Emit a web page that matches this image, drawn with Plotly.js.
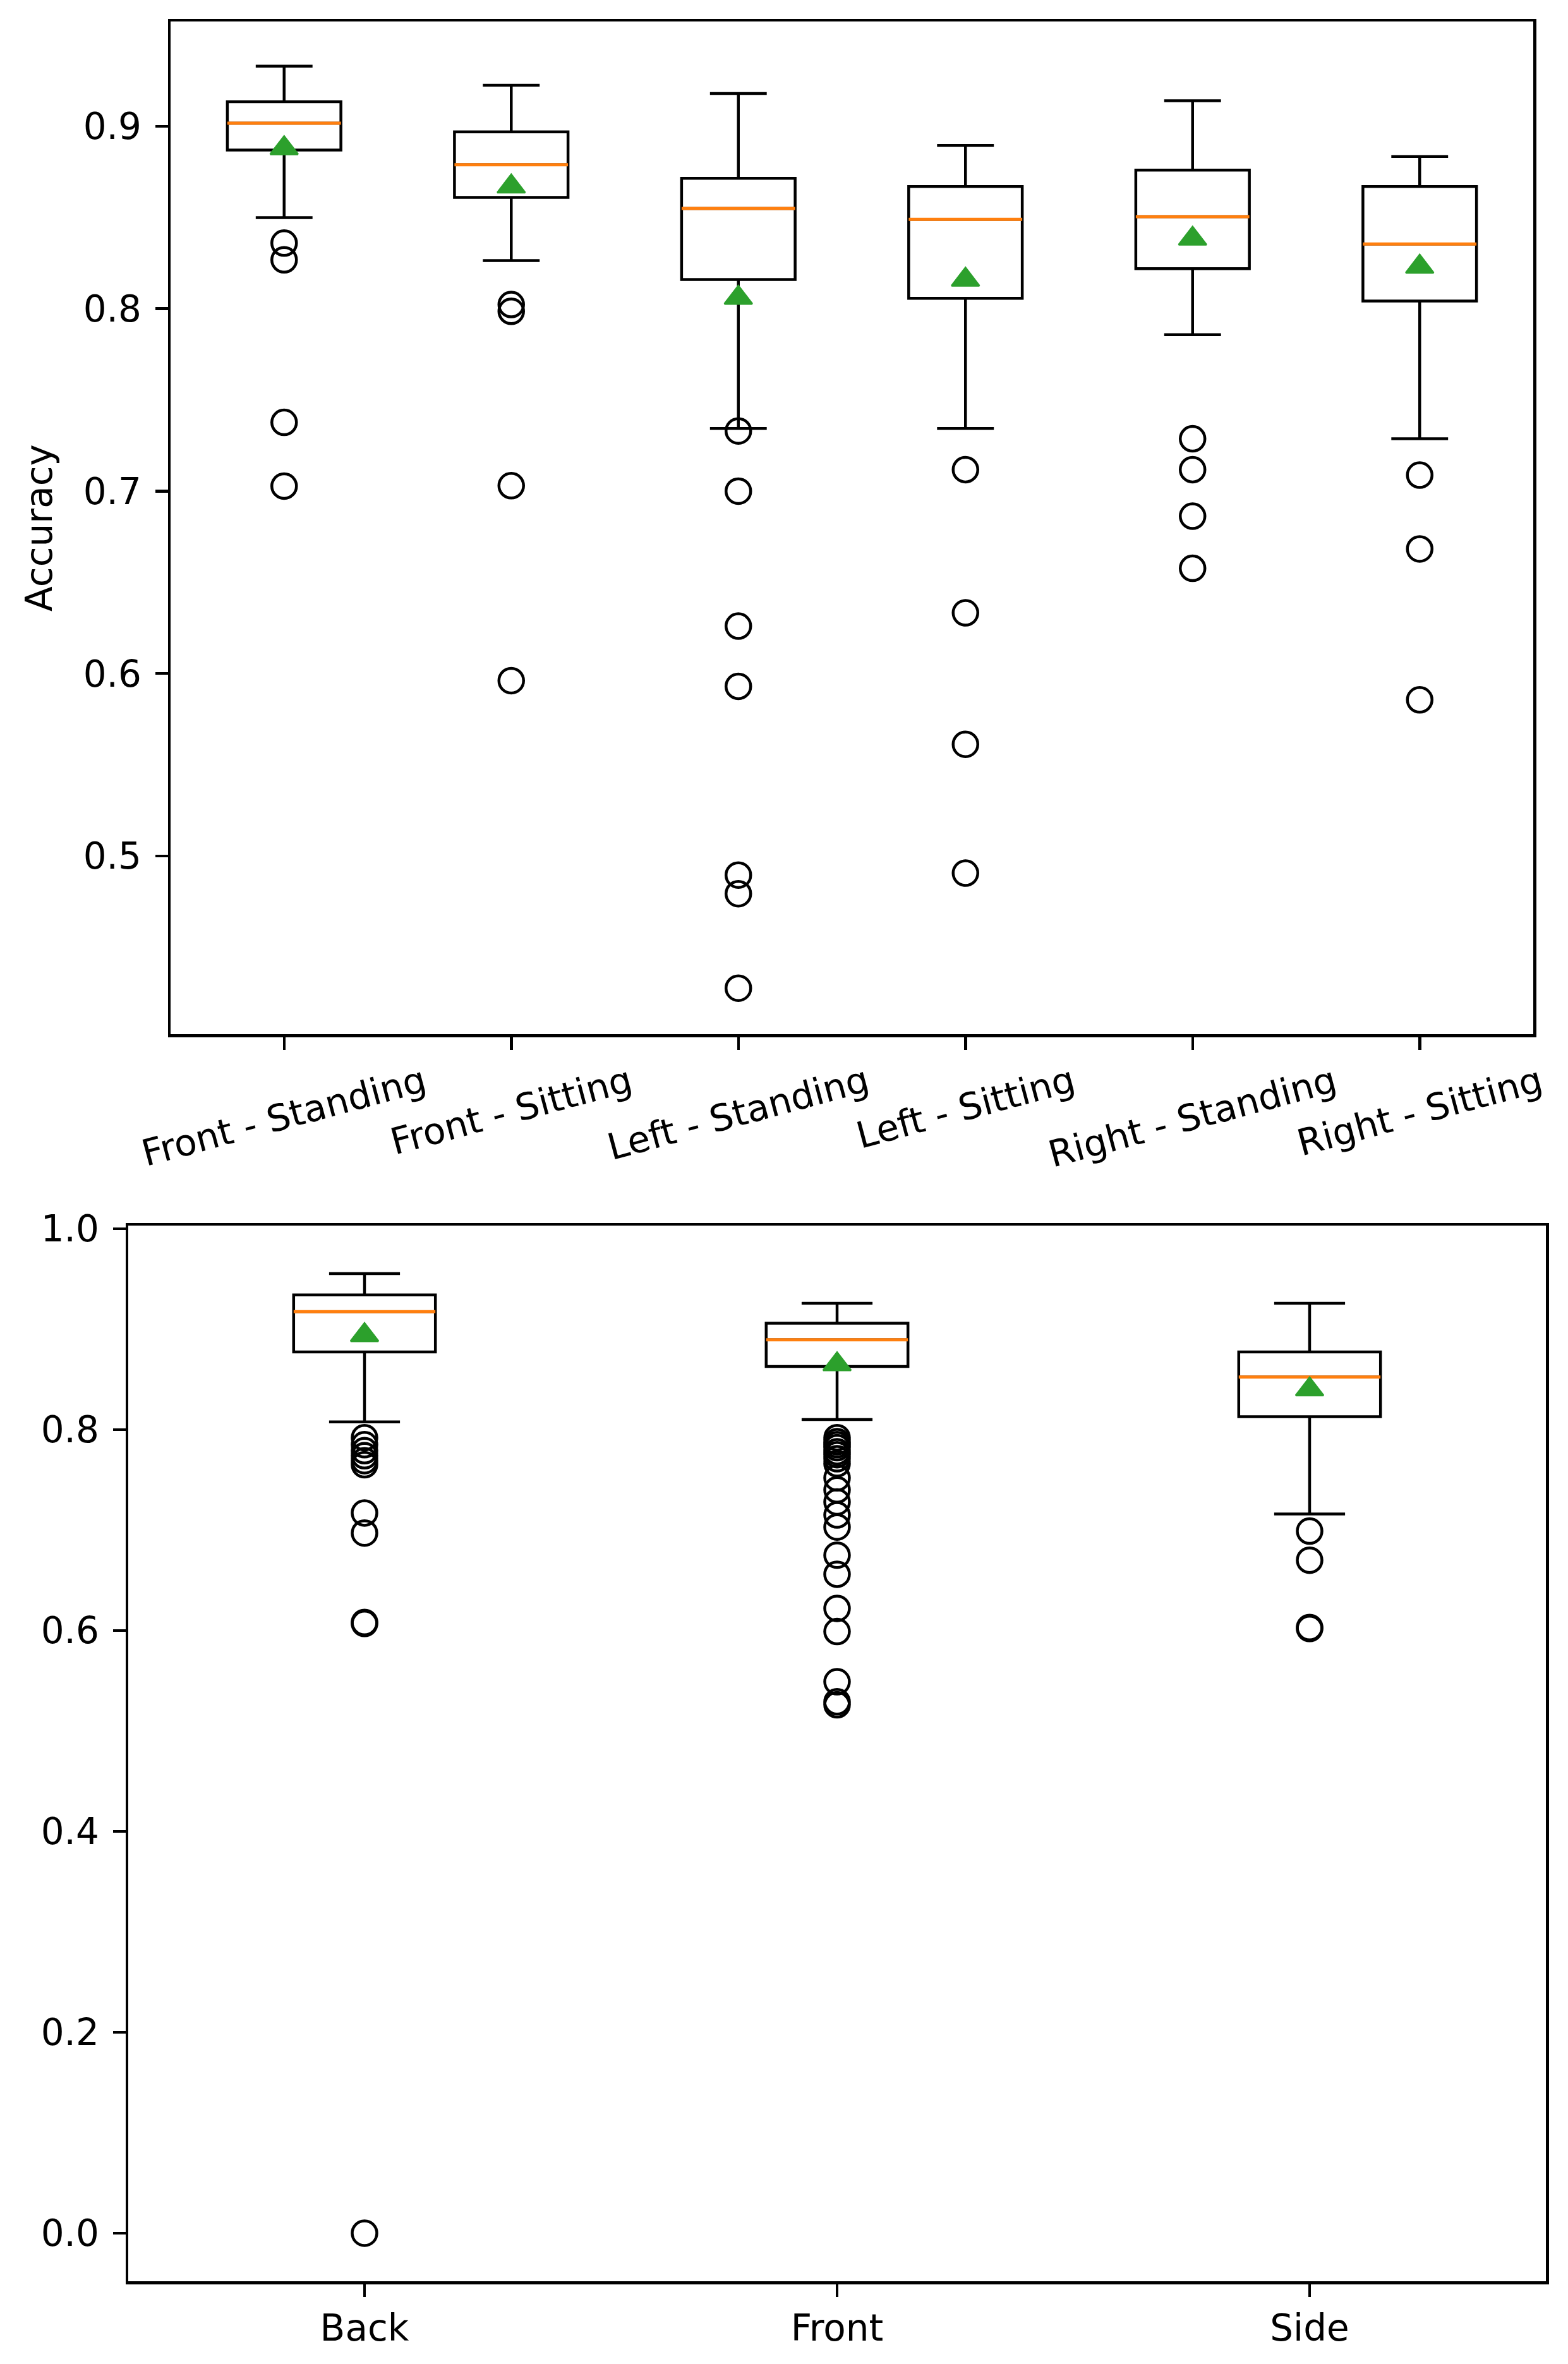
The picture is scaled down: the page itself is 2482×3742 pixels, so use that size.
<!DOCTYPE html>
<html>
<head>
<meta charset="utf-8">
<script src="https://cdn.plot.ly/plotly-3.0.1.min.js"></script>
<style>
  html, body { margin: 0; padding: 0; background: #ffffff; overflow: hidden; }
  #chart { width: 2482px; height: 3742px; }
</style>
</head>
<body>
<div id="chart"></div>
<script>
// ---------- Top panel: camera view - posture ----------
const categoriesTop = ['Front - Standing', 'Front - Sitting', 'Left - Standing', 'Left - Sitting', 'Right - Standing', 'Right - Sitting'];
const upperTop  = [0.933, 0.9225, 0.918, 0.8895, 0.914, 0.8835];
const q3Top     = [0.9135, 0.897, 0.8715, 0.867, 0.876, 0.867];
const medianTop = [0.9017, 0.879, 0.855, 0.849, 0.8505, 0.8355];
const q1Top     = [0.887, 0.861, 0.816, 0.8057, 0.822, 0.8042];
const lowerTop  = [0.850, 0.8264, 0.7344, 0.7344, 0.7858, 0.7287];
const meanTop   = [0.888, 0.867, 0.806, 0.8159, 0.8384, 0.823];
const outFrontStanding = [0.836, 0.8268, 0.7377, 0.7028];
const outFrontSitting  = [0.8023, 0.7986, 0.703, 0.5961];
const outLeftStanding  = [0.733, 0.700, 0.626, 0.593, 0.4895, 0.4793, 0.4275];
const outLeftSitting   = [0.7118, 0.6333, 0.5612, 0.4906];
const outRightStanding = [0.7287, 0.7118, 0.6863, 0.6577];
const outRightSitting  = [0.7088, 0.6683, 0.5856];
const outliersTop = [outFrontStanding, outFrontSitting, outLeftStanding, outLeftSitting, outRightStanding, outRightSitting];
const yTicksTop = [0.5, 0.6, 0.7, 0.8, 0.9];

// ---------- Bottom panel: camera view ----------
const categoriesBottom = ['Back', 'Front', 'Side'];
const upperBottom  = [0.9553, 0.9258, 0.9258];
const q3Bottom     = [0.934, 0.906, 0.8773];
const medianBottom = [0.9174, 0.8894, 0.8523];
const q1Bottom     = [0.8773, 0.8629, 0.8129];
const lowerBottom  = [0.8076, 0.810, 0.716];
const meanBottom   = [0.894, 0.865, 0.840];
const outBack  = [0.792, 0.785, 0.779, 0.774, 0.769, 0.765, 0.717, 0.697, 0.608, 0.607, 0.0];
const outFront = [0.792, 0.788, 0.785, 0.782, 0.778, 0.775, 0.771, 0.766, 0.752, 0.740, 0.728, 0.715, 0.703, 0.675, 0.656, 0.622, 0.599, 0.549, 0.529, 0.526];
const outSide  = [0.699, 0.670, 0.603, 0.602];
const outliersBottom = [outBack, outFront, outSide];
const yTicksBottom = [0.0, 0.2, 0.4, 0.6, 0.8, 1.0];

// ---------- styling ----------
const FONT = 'DejaVu Sans, Verdana, sans-serif';
const FS = 58;
const LW = 4.5;
const ORANGE = '#ff7f0e';
const GREEN = '#2ca02c';

function buildPanel(cats, lower, q1, med, q3, upper, mean, outliers, boxWidth, xa, ya) {
  const pos = cats.map((c, i) => i + 1);
  const traces = [];
  traces.push({
    type: 'box', orientation: 'v', x: pos,
    q1: q1, median: med, q3: q3, lowerfence: lower, upperfence: upper,
    width: boxWidth, whiskerwidth: 0.5, boxpoints: false,
    line: { color: '#000000', width: LW }, fillcolor: 'rgba(0,0,0,0)',
    xaxis: xa, yaxis: ya, hoverinfo: 'skip', showlegend: false
  });
  // orange median lines
  const mx = [], my = [];
  pos.forEach((p, i) => { mx.push(p - boxWidth / 2, p + boxWidth / 2, null); my.push(med[i], med[i], null); });
  traces.push({ type: 'scatter', mode: 'lines', x: mx, y: my, line: { color: ORANGE, width: LW + 0.5 },
    xaxis: xa, yaxis: ya, hoverinfo: 'skip', showlegend: false });
  // outliers
  const ox = [], oy = [];
  outliers.forEach((arr, i) => arr.forEach(v => { ox.push(pos[i]); oy.push(v); }));
  traces.push({ type: 'scatter', mode: 'markers', x: ox, y: oy,
    marker: { symbol: 'circle-open', size: 39, color: '#000000', line: { color: '#000000', width: LW } },
    xaxis: xa, yaxis: ya, hoverinfo: 'skip', showlegend: false });
  // means
  traces.push({ type: 'scatter', mode: 'markers', x: pos, y: mean,
    marker: { symbol: 'triangle-up', size: 38, color: GREEN, line: { color: GREEN, width: 3 } },
    xaxis: xa, yaxis: ya, hoverinfo: 'skip', showlegend: false });
  return traces;
}

const data = [].concat(
  buildPanel(categoriesTop, lowerTop, q1Top, medianTop, q3Top, upperTop, meanTop, outliersTop, 0.5, 'x', 'y'),
  buildPanel(categoriesBottom, lowerBottom, q1Bottom, medianBottom, q3Bottom, upperBottom, meanBottom, outliersBottom, 0.3, 'x2', 'y2')
);

const W = 2482, H = 3742;
const axisCommon = {
  showline: true, linecolor: '#000000', linewidth: LW, mirror: true,
  ticks: 'outside', ticklen: 20, tickwidth: LW, tickcolor: '#000000',
  showgrid: false, zeroline: false, fixedrange: true,
  tickfont: { family: FONT, size: FS, color: '#000000' }
};

const topAnnotations = categoriesTop.map((c, i) => ({
  x: i + 1, xref: 'x', y: 1 - 1672 / H, yref: 'paper',
  text: c, textangle: -15, xanchor: 'center', yanchor: 'top', showarrow: false,
  font: { family: FONT, size: FS, color: '#000000' }
}));

const layout = {
  width: W, height: H,
  margin: { l: 0, r: 0, t: 0, b: 0, pad: 0 },
  paper_bgcolor: '#ffffff', plot_bgcolor: '#ffffff',
  showlegend: false,
  font: { family: FONT, size: FS, color: '#000000' },
  xaxis: Object.assign({}, axisCommon, {
    domain: [270 / W, 2427 / W], range: [0.5, categoriesTop.length + 0.5],
    tickvals: categoriesTop.map((c, i) => i + 1), showticklabels: false, anchor: 'y'
  }),
  yaxis: Object.assign({}, axisCommon, {
    domain: [1 - 1637 / H, 1 - 34 / H], range: [0.4023, 0.9575],
    tickvals: yTicksTop, tickformat: '.1f', anchor: 'x', ticklabelstandoff: 10,
    title: { text: 'Accuracy', font: { family: FONT, size: FS, color: '#000000' }, standoff: 32 }
  }),
  xaxis2: Object.assign({}, axisCommon, {
    domain: [203 / W, 2447 / W], range: [0.5, categoriesBottom.length + 0.5],
    tickvals: categoriesBottom.map((c, i) => i + 1), ticktext: categoriesBottom, anchor: 'y2'
  }),
  yaxis2: Object.assign({}, axisCommon, {
    domain: [1 - 3611 / H, 1 - 1940 / H], range: [-0.0478, 1.0031],
    tickvals: yTicksBottom, tickformat: '.1f', anchor: 'x2', ticklabelstandoff: 10
  }),
  annotations: topAnnotations
};

Plotly.newPlot('chart', data, layout, { staticPlot: true, displayModeBar: false });
</script>
</body>
</html>
